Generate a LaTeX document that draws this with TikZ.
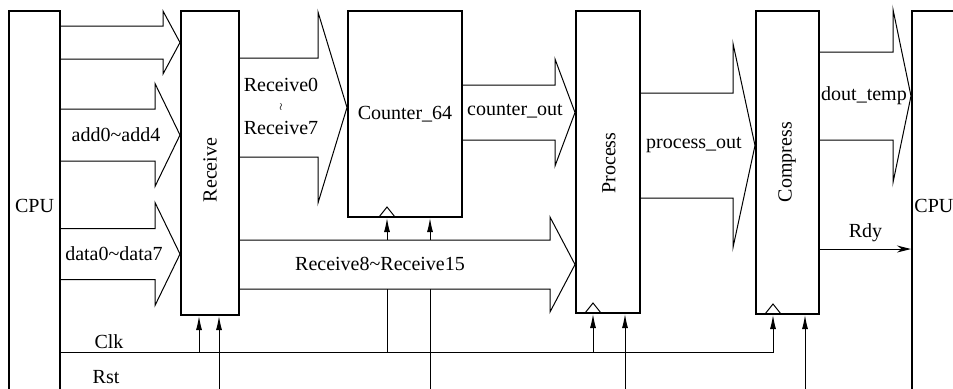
\documentclass[tikz,border=0pt]{standalone}
\usepackage{fontspec}
\setmainfont{Liberation Serif}
\usetikzlibrary{arrows.meta, positioning, calc}

% wide bus arrow: from, to, y, half shaft, half head, head length
\newcommand{\busarrow}[6]{%
  \path (#1.east |- 0,#3) coordinate (bs) (#2.west |- 0,#3) coordinate (bt);
  \draw[bus] ($(bs)+(0,-#4)$) -- ($(bt)+(-#6,-#4)$) -- ($(bt)+(-#6,-#5)$) -- (bt)
    -- ($(bt)+(-#6,#5)$) -- ($(bt)+(-#6,#4)$) -- ($(bs)+(0,#4)$);
}

\begin{document}
\begin{tikzpicture}[
    x=0.5pt, y=-0.5pt,
    font=\fontsize{10}{12}\selectfont,
    block/.style={rectangle, draw, line width=1pt, inner sep=0pt},
    bus/.style={draw, fill=white, line width=0.5pt},
    wire/.style={line width=0.5pt},
    sig/.style={wire, -{Latex[length=7pt,width=3pt]}},
    rdy_arrow/.style={wire, -{Stealth[length=7pt,width=3.5pt]}}
]
\useasboundingbox (0,0) rectangle (953,388);

% blocks
\node[block, minimum width=25.5pt, minimum height=194.5pt] (cpu) at (34.5,205.5) {CPU};
\node[block, minimum width=29pt, minimum height=152pt] (recv) at (210,163) {};
\node[block, minimum width=57pt, minimum height=103pt] (cnt) at (405,114) {Counter\_64};
\node[block, minimum width=32pt, minimum height=151pt] (prc) at (608,162) {};
\node[block, minimum width=31.5pt, minimum height=151.5pt] (cmp) at (787.5,162.5) {};
\node[block, minimum width=25pt, minimum height=194.5pt] (cpu_r) at (937,205.5) {};

\node[rotate=90] (recv_lbl) at (210,170) {Receive};
\node[rotate=90] (prc_lbl) at (609,163) {Process};
\node[rotate=90] (cmp_lbl) at (787,162) {Compress};
\node[anchor=west, inner sep=0pt] (cpu_r_lbl) at (914,205.5) {CPU};

% clock and reset taps
\coordinate (recv_clk) at ([xshift=-5.5pt]recv.south);
\coordinate (recv_rst) at ([xshift=4.5pt]recv.south);
\coordinate (cnt_clk) at ([xshift=-9pt]cnt.south);
\coordinate (cnt_rst) at ([xshift=12.5pt]cnt.south);
\coordinate (prc_clk) at ([xshift=-7.5pt]prc.south);
\coordinate (prc_rst) at ([xshift=8.5pt]prc.south);
\coordinate (cmp_clk) at ([xshift=-7.25pt]cmp.south);
\coordinate (cmp_rst) at ([xshift=8.75pt]cmp.south);
\coordinate (clk) at (cpu.east |- 0,352);
\coordinate (rst) at (cpu.east |- 0,396);

\draw[sig] (clk) -| (cmp_clk);
\draw[sig] (clk -| recv_clk) -- (recv_clk);
\draw[sig] (clk -| cnt_clk) -- (cnt_clk);
\draw[sig] (clk -| prc_clk) -- (prc_clk);
\draw[sig] (rst) -| (cmp_rst);
\draw[sig] (rst -| recv_rst) -- (recv_rst);
\draw[sig] (rst -| cnt_rst) -- (cnt_rst);
\draw[sig] (rst -| prc_rst) -- (prc_rst);

\foreach \c in {cnt_clk, prc_clk, cmp_clk}
  \draw[wire] ([xshift=-4pt,yshift=0.5pt]\c) -- ([yshift=5.5pt]\c) -- ([xshift=4pt,yshift=0.5pt]\c);

% buses
\busarrow{cpu}{recv}{42.5}{16.5}{31.5}{17}
\busarrow{cpu}{recv}{135}{26}{51.5}{25}
\busarrow{cpu}{recv}{254}{25.5}{51.5}{25}
\busarrow{recv}{cnt}{107.5}{49.5}{95.5}{29}
\busarrow{recv}{prc}{264.5}{24.5}{47.5}{25}
\busarrow{cnt}{prc}{112.5}{27.5}{53.5}{20}
\busarrow{prc}{cmp}{145.5}{52.5}{102}{22}
\busarrow{cmp}{cpu_r}{96}{44}{86.5}{18}

\draw[rdy_arrow] (cmp.east |- 0,249) -- node[above] (rdy_lbl) {Rdy} (cpu_r.west |- 0,249);

% labels
\node (add_lbl) at (116,135) {add0\textasciitilde add4};
\node (data_lbl) at (114,254) {data0\textasciitilde data7};
\node (r0_lbl) at (281,85) {Receive0};
\node (wr_lbl) at (281,107) {\tiny$\wr$};
\node (r7_lbl) at (281,128) {Receive7};
\node (r8_lbl) at (380,264) {Receive8\textasciitilde Receive15};
\node (cnto_lbl) at (515,111) {counter\_out};
\node (prco_lbl) at (694,145) {process\_out};
\node (dout_lbl) at (864,96) {dout\_temp};
\node (clk_lbl) at (109,342) {Clk};
\node (rst_lbl) at (106,377) {Rst};
\end{tikzpicture}
\end{document}
